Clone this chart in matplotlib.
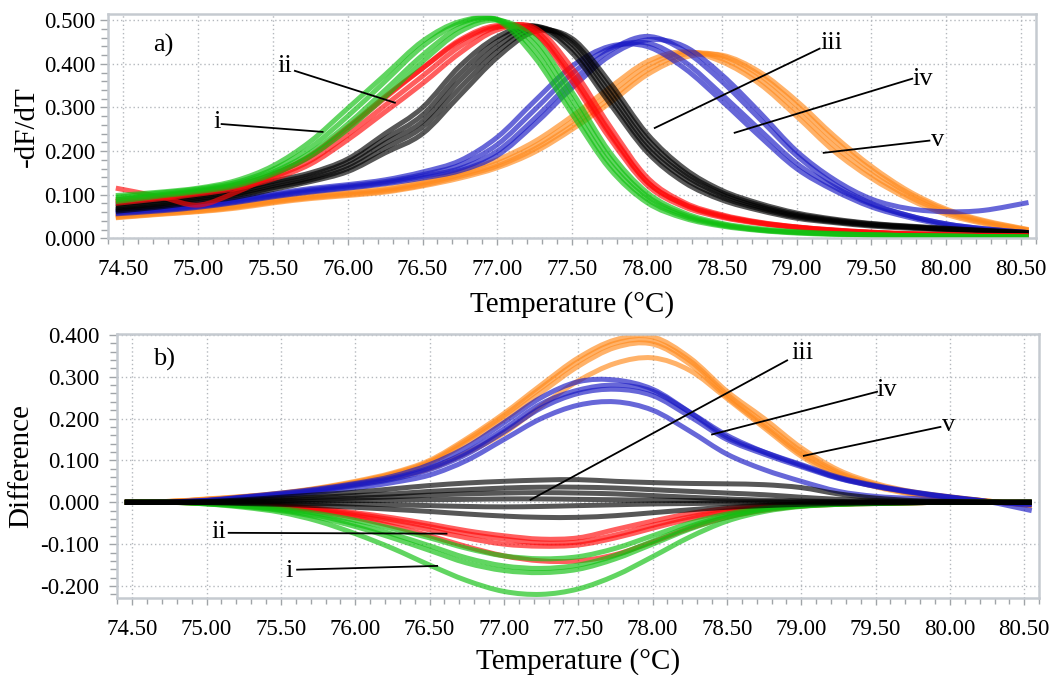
import matplotlib
matplotlib.use('Agg')
import matplotlib.pyplot as plt
from matplotlib.ticker import MultipleLocator, FormatStrFormatter
from matplotlib.path import Path
from matplotlib.patches import PathPatch

plt.rcParams['font.family'] = ['Liberation Serif', 'DejaVu Serif']

temps = [74.45, 74.75, 75.0, 75.25, 75.5, 75.75, 76.0, 76.25, 76.5, 76.75, 77.0, 77.25,
         77.5, 77.75, 78.0, 78.25, 78.5, 78.75, 79.0, 79.25, 79.5, 79.75, 80.0, 80.25, 80.55]

# ---------------- panel a) -dF/dT ----------------
top_green = [
    [0.098, 0.106, 0.115, 0.132, 0.166, 0.222, 0.298, 0.375, 0.452, 0.497, 0.500, 0.415, 0.285, 0.160, 0.082, 0.046, 0.028, 0.018, 0.012, 0.009, 0.007, 0.006, 0.005, 0.004, 0.003],
    [0.094, 0.104, 0.113, 0.128, 0.158, 0.208, 0.280, 0.360, 0.440, 0.493, 0.502, 0.430, 0.300, 0.172, 0.090, 0.050, 0.030, 0.019, 0.013, 0.010, 0.008, 0.006, 0.005, 0.004, 0.003],
    [0.088, 0.100, 0.110, 0.124, 0.152, 0.196, 0.262, 0.340, 0.420, 0.484, 0.502, 0.445, 0.318, 0.185, 0.097, 0.054, 0.032, 0.020, 0.014, 0.010, 0.008, 0.006, 0.005, 0.004, 0.003],
    [0.084, 0.097, 0.107, 0.120, 0.147, 0.188, 0.250, 0.325, 0.405, 0.474, 0.500, 0.458, 0.335, 0.198, 0.105, 0.058, 0.034, 0.022, 0.015, 0.011, 0.008, 0.006, 0.005, 0.004, 0.003],
]
top_red = [
    [0.115, 0.095, 0.076, 0.105, 0.145, 0.190, 0.255, 0.325, 0.390, 0.452, 0.485, 0.470, 0.370, 0.240, 0.130, 0.078, 0.052, 0.036, 0.026, 0.019, 0.014, 0.011, 0.009, 0.007, 0.006],
    [0.088, 0.097, 0.107, 0.122, 0.147, 0.188, 0.252, 0.322, 0.390, 0.455, 0.488, 0.470, 0.360, 0.230, 0.122, 0.072, 0.048, 0.034, 0.025, 0.018, 0.013, 0.010, 0.008, 0.006, 0.005],
    [0.084, 0.094, 0.104, 0.118, 0.141, 0.178, 0.238, 0.305, 0.372, 0.440, 0.484, 0.478, 0.375, 0.245, 0.130, 0.077, 0.050, 0.035, 0.025, 0.018, 0.013, 0.010, 0.008, 0.006, 0.005],
    [0.080, 0.091, 0.101, 0.114, 0.136, 0.170, 0.226, 0.290, 0.355, 0.425, 0.478, 0.483, 0.390, 0.258, 0.140, 0.082, 0.054, 0.037, 0.026, 0.019, 0.014, 0.010, 0.008, 0.006, 0.005],
]
top_black = [
    [0.078, 0.087, 0.099, 0.111, 0.131, 0.150, 0.182, 0.240, 0.300, 0.395, 0.462, 0.486, 0.425, 0.310, 0.198, 0.128, 0.088, 0.064, 0.046, 0.036, 0.028, 0.023, 0.019, 0.015, 0.011],
    [0.074, 0.083, 0.095, 0.106, 0.126, 0.145, 0.175, 0.228, 0.283, 0.378, 0.452, 0.487, 0.435, 0.322, 0.208, 0.137, 0.094, 0.068, 0.049, 0.038, 0.030, 0.025, 0.020, 0.016, 0.012],
    [0.070, 0.079, 0.091, 0.102, 0.121, 0.139, 0.167, 0.218, 0.268, 0.362, 0.440, 0.485, 0.445, 0.334, 0.218, 0.145, 0.100, 0.072, 0.052, 0.040, 0.031, 0.026, 0.021, 0.017, 0.012],
    [0.066, 0.075, 0.087, 0.098, 0.116, 0.134, 0.160, 0.207, 0.255, 0.345, 0.428, 0.480, 0.452, 0.346, 0.229, 0.152, 0.105, 0.076, 0.055, 0.042, 0.033, 0.027, 0.022, 0.018, 0.013],
    [0.062, 0.072, 0.083, 0.094, 0.112, 0.130, 0.153, 0.196, 0.240, 0.328, 0.415, 0.474, 0.458, 0.358, 0.240, 0.160, 0.110, 0.080, 0.058, 0.044, 0.034, 0.028, 0.023, 0.018, 0.013],
]
top_blue = [
    [0.064, 0.070, 0.078, 0.089, 0.102, 0.114, 0.123, 0.134, 0.152, 0.178, 0.232, 0.315, 0.395, 0.440, 0.440, 0.390, 0.315, 0.235, 0.160, 0.110, 0.072, 0.048, 0.030, 0.020, 0.012],
    [0.060, 0.067, 0.075, 0.086, 0.099, 0.111, 0.120, 0.130, 0.146, 0.168, 0.215, 0.295, 0.378, 0.435, 0.448, 0.405, 0.330, 0.250, 0.172, 0.118, 0.078, 0.052, 0.033, 0.022, 0.013],
    [0.058, 0.065, 0.073, 0.084, 0.097, 0.108, 0.117, 0.127, 0.142, 0.160, 0.200, 0.275, 0.360, 0.430, 0.463, 0.430, 0.360, 0.275, 0.190, 0.125, 0.080, 0.052, 0.033, 0.022, 0.013],
    [0.056, 0.063, 0.071, 0.082, 0.095, 0.106, 0.115, 0.125, 0.138, 0.155, 0.190, 0.262, 0.345, 0.418, 0.455, 0.440, 0.375, 0.290, 0.200, 0.135, 0.090, 0.068, 0.061, 0.064, 0.082],
]
top_orange = [
    [0.052, 0.060, 0.066, 0.075, 0.088, 0.098, 0.106, 0.114, 0.130, 0.152, 0.180, 0.222, 0.280, 0.345, 0.405, 0.428, 0.405, 0.355, 0.280, 0.200, 0.138, 0.090, 0.055, 0.034, 0.017],
    [0.050, 0.058, 0.064, 0.073, 0.085, 0.095, 0.103, 0.111, 0.126, 0.146, 0.172, 0.212, 0.268, 0.332, 0.395, 0.426, 0.412, 0.365, 0.292, 0.212, 0.147, 0.096, 0.059, 0.036, 0.018],
    [0.048, 0.056, 0.062, 0.071, 0.083, 0.093, 0.100, 0.108, 0.122, 0.142, 0.166, 0.205, 0.258, 0.320, 0.385, 0.422, 0.418, 0.375, 0.305, 0.225, 0.157, 0.103, 0.064, 0.039, 0.019],
    [0.047, 0.055, 0.061, 0.069, 0.081, 0.091, 0.098, 0.106, 0.120, 0.138, 0.162, 0.198, 0.250, 0.310, 0.375, 0.415, 0.420, 0.382, 0.315, 0.235, 0.165, 0.108, 0.067, 0.041, 0.020],
]

# ---------------- panel b) Difference ----------------
bot_green = [
    [0, 0, -0.003, -0.008, -0.015, -0.027, -0.043, -0.063, -0.085, -0.110, -0.128, -0.135, -0.130, -0.110, -0.080, -0.050, -0.028, -0.014, -0.007, -0.004, -0.002, -0.001, 0, 0, 0],
    [0, 0, -0.003, -0.009, -0.018, -0.032, -0.052, -0.076, -0.104, -0.133, -0.152, -0.158, -0.150, -0.127, -0.093, -0.058, -0.032, -0.016, -0.008, -0.004, -0.002, -0.001, 0, 0, 0],
    [0, 0, -0.004, -0.010, -0.020, -0.036, -0.058, -0.085, -0.115, -0.145, -0.163, -0.168, -0.160, -0.135, -0.100, -0.064, -0.036, -0.018, -0.009, -0.005, -0.003, -0.001, 0, 0, 0],
    [0, 0, -0.004, -0.012, -0.024, -0.045, -0.075, -0.110, -0.150, -0.187, -0.213, -0.220, -0.207, -0.175, -0.130, -0.083, -0.045, -0.022, -0.010, -0.005, -0.003, -0.001, 0, 0, 0],
]
bot_red = [
    [0, 0, -0.002, -0.005, -0.008, -0.015, -0.025, -0.037, -0.052, -0.068, -0.080, -0.088, -0.085, -0.065, -0.045, -0.027, -0.015, -0.008, -0.004, -0.003, -0.002, -0.001, 0, 0, 0],
    [0, 0, -0.002, -0.005, -0.009, -0.017, -0.028, -0.042, -0.058, -0.075, -0.088, -0.097, -0.095, -0.078, -0.055, -0.035, -0.020, -0.011, -0.006, -0.003, -0.002, -0.001, 0, 0, 0],
    [0, 0, -0.002, -0.005, -0.010, -0.019, -0.032, -0.048, -0.066, -0.085, -0.100, -0.105, -0.102, -0.085, -0.062, -0.040, -0.023, -0.013, -0.007, -0.004, -0.002, -0.001, 0, 0, 0],
    [0, 0, -0.003, -0.006, -0.012, -0.022, -0.037, -0.057, -0.080, -0.106, -0.128, -0.140, -0.140, -0.125, -0.095, -0.062, -0.036, -0.019, -0.009, -0.005, -0.003, -0.001, 0, 0, 0],
]
bot_black = [
    [0, 0, 0.002, 0.006, 0.012, 0.018, 0.024, 0.032, 0.040, 0.046, 0.050, 0.053, 0.054, 0.050, 0.047, 0.045, 0.044, 0.042, 0.035, 0.020, 0.010, 0.004, 0.002, 0, 0],
    [0, 0, 0.001, 0.004, 0.008, 0.012, 0.016, 0.020, 0.026, 0.030, 0.034, 0.036, 0.036, 0.034, 0.030, 0.026, 0.022, 0.018, 0.012, 0.007, 0.004, 0.002, 0.001, 0, 0],
    [0, 0, 0, 0.002, 0.004, 0.007, 0.010, 0.013, 0.017, 0.020, 0.022, 0.023, 0.022, 0.020, 0.016, 0.012, 0.008, 0.005, 0.003, 0.002, 0.001, 0, 0, 0, 0],
    [0, 0, 0, 0.001, 0.002, 0.003, 0.004, 0.005, 0.006, 0.007, 0.008, 0.008, 0.007, 0.006, 0.005, 0.004, 0.003, 0.002, 0.001, 0, 0, 0, 0, 0, 0],
    [0, 0, 0, -0.001, -0.002, -0.003, -0.004, -0.006, -0.008, -0.010, -0.011, -0.010, -0.008, -0.006, -0.004, -0.003, -0.002, -0.001, 0, 0, 0, 0, 0, 0, 0],
    [0, 0, -0.001, -0.003, -0.005, -0.008, -0.012, -0.017, -0.022, -0.028, -0.033, -0.036, -0.036, -0.032, -0.025, -0.018, -0.012, -0.008, -0.005, -0.003, -0.002, -0.001, 0, 0, 0],
]
bot_blue = [
    [0, 0.001, 0.005, 0.013, 0.022, 0.032, 0.045, 0.062, 0.090, 0.132, 0.190, 0.250, 0.288, 0.292, 0.270, 0.215, 0.155, 0.120, 0.090, 0.060, 0.040, 0.025, 0.013, 0.002, -0.020],
    [0, 0.001, 0.004, 0.012, 0.020, 0.030, 0.043, 0.058, 0.082, 0.120, 0.175, 0.235, 0.268, 0.280, 0.265, 0.215, 0.160, 0.120, 0.088, 0.058, 0.038, 0.024, 0.012, 0.002, -0.006],
    [0, 0.001, 0.004, 0.011, 0.019, 0.028, 0.040, 0.055, 0.078, 0.115, 0.168, 0.225, 0.260, 0.270, 0.255, 0.205, 0.150, 0.115, 0.085, 0.057, 0.038, 0.023, 0.012, 0.002, -0.005],
    [0, 0.001, 0.003, 0.009, 0.016, 0.024, 0.034, 0.047, 0.065, 0.100, 0.150, 0.200, 0.232, 0.240, 0.220, 0.170, 0.115, 0.078, 0.050, 0.026, 0.014, 0.009, 0.005, 0.001, -0.004],
]
bot_orange = [
    [0, 0.002, 0.008, 0.014, 0.022, 0.034, 0.050, 0.070, 0.100, 0.152, 0.212, 0.280, 0.345, 0.388, 0.395, 0.345, 0.265, 0.200, 0.130, 0.077, 0.045, 0.025, 0.013, 0.003, -0.007],
    [0, 0.002, 0.007, 0.013, 0.021, 0.033, 0.048, 0.068, 0.097, 0.148, 0.207, 0.273, 0.336, 0.380, 0.385, 0.338, 0.258, 0.190, 0.122, 0.072, 0.042, 0.022, 0.012, 0.003, -0.007],
    [0, 0.002, 0.007, 0.013, 0.021, 0.032, 0.047, 0.066, 0.094, 0.142, 0.198, 0.262, 0.325, 0.370, 0.378, 0.330, 0.252, 0.183, 0.115, 0.068, 0.040, 0.021, 0.011, 0.003, -0.008],
    [0, 0.002, 0.006, 0.012, 0.019, 0.029, 0.042, 0.058, 0.080, 0.118, 0.165, 0.230, 0.290, 0.332, 0.345, 0.315, 0.248, 0.178, 0.110, 0.063, 0.037, 0.019, 0.010, 0.002, -0.008],
]

colors = {'green': '#10c010', 'red': '#ff0a0a', 'black': '#000000',
          'blue': '#1818c4', 'orange': '#ff8a1c'}

# annotations: label, text position, line start, line end
top_notes = [
    ('i', (75.124, 0.267), (75.157, 0.262), (75.832, 0.244)),
    ('ii', (75.58, 0.396), (75.647, 0.384), (76.315, 0.311)),
    ('iii', (79.232, 0.447), (79.154, 0.435), (78.052, 0.253)),
    ('iv', (79.844, 0.366), (79.773, 0.366), (78.586, 0.242)),
    ('v', (79.944, 0.225), (79.888, 0.224), (79.181, 0.196)),
]
bot_notes = [
    ('ii', (75.082, -0.071), (75.149, -0.073), (76.614, -0.075)),
    ('i', (75.553, -0.163), (75.609, -0.161), (76.551, -0.152)),
    ('iii', (79.006, 0.356), (78.905, 0.339), (77.179, 0.006)),
    ('iv', (79.577, 0.268), (79.51, 0.264), (78.40, 0.162)),
    ('v', (79.992, 0.184), (79.936, 0.180), (79.017, 0.111)),
]

fig = plt.figure(figsize=(10.62, 6.75), dpi=100)
ax1 = fig.add_axes([0.102, 0.647, 0.8735, 0.332])
ax2 = fig.add_axes([0.1105, 0.1145, 0.868, 0.3907])

spine_col = '#c5cad0'
grid_col = '#b4b8bd'


def style(ax, ylo, yhi, ystep, ylabel, ypad, xlab_y, ylab_x):
    ax.set_xlim(74.40, 80.60)
    ax.set_ylim(ylo, yhi)
    ax.xaxis.set_major_locator(MultipleLocator(0.5))
    ax.xaxis.set_minor_locator(MultipleLocator(0.1))
    ax.yaxis.set_major_locator(MultipleLocator(ystep))
    ax.yaxis.set_minor_locator(MultipleLocator(0.02))
    ax.xaxis.set_major_formatter(FormatStrFormatter('%.2f'))
    ax.yaxis.set_major_formatter(FormatStrFormatter('%.3f'))
    ax.grid(True, which='major', color=grid_col, linestyle=(0, (1, 2)), linewidth=1.0)
    ax.set_axisbelow(True)
    for s in ax.spines.values():
        s.set_color(spine_col)
        s.set_linewidth(1.8)
    ax.tick_params(axis='x', which='major', direction='out', length=5, width=1,
                   color='#a0a4a8', labelsize=16.5, pad=10)
    ax.tick_params(axis='x', which='minor', direction='out', length=4, width=1, color='#a0a4a8')
    ax.tick_params(axis='y', which='major', direction='out', length=6, width=1,
                   color='#a0a4a8', labelsize=16.5, pad=ypad)
    ax.tick_params(axis='y', which='minor', direction='out', length=5, width=1, color='#a0a4a8')
    ax.set_xlabel('Temperature (°C)', fontsize=21)
    ax.xaxis.set_label_coords(0.5, xlab_y)
    ax.set_ylabel(ylabel, fontsize=21)
    ax.yaxis.set_label_coords(ylab_x, 0.5)


def smooth_path(xs, ys):
    # Catmull-Rom curve through the read points, drawn as cubic Bezier segments
    n = len(xs)
    verts = [(xs[0], ys[0])]
    codes = [Path.MOVETO]
    for i in range(n - 1):
        x0, y0 = (xs[i - 1], ys[i - 1]) if i > 0 else (xs[i], ys[i])
        x1, y1 = xs[i], ys[i]
        x2, y2 = xs[i + 1], ys[i + 1]
        x3, y3 = (xs[i + 2], ys[i + 2]) if i + 2 < n else (xs[i + 1], ys[i + 1])
        c1 = (x1 + (x2 - x0) / 6.0, y1 + (y2 - y0) / 6.0)
        c2 = (x2 - (x3 - x1) / 6.0, y2 - (y3 - y1) / 6.0)
        verts += [c1, c2, (x2, y2)]
        codes += [Path.CURVE4, Path.CURVE4, Path.CURVE4]
    return Path(verts, codes)


def draw(ax, groups):
    for name, curves in groups:
        for c in curves:
            patch = PathPatch(smooth_path(temps, c), fill=False, edgecolor=colors[name],
                              lw=3.6, alpha=0.66, capstyle='butt', joinstyle='round')
            ax.add_patch(patch)


def notes(ax, items):
    for lab, tpos, p0, p1 in items:
        ax.plot([p0[0], p1[0]], [p0[1], p1[1]], color='black', lw=1.3, zorder=5)
        ax.text(tpos[0], tpos[1], lab, fontsize=19, ha='center', va='center', zorder=6)


draw(ax1, [('orange', top_orange), ('blue', top_blue), ('black', top_black),
           ('red', top_red), ('green', top_green)])
draw(ax2, [('orange', bot_orange), ('blue', bot_blue), ('red', bot_red),
           ('green', bot_green), ('black', bot_black)])

style(ax1, 0.0, 0.514, 0.1, '-dF/dT', 3.5, -0.235, -0.074)
style(ax2, -0.228, 0.402, 0.1, 'Difference', 7, -0.19, -0.09)

notes(ax1, top_notes)
notes(ax2, bot_notes)
ax1.text(74.765, 0.443, 'a)', fontsize=19, ha='center', va='center')
ax2.text(74.713, 0.340, 'b)', fontsize=19, ha='center', va='center')

fig.savefig('out.png', dpi=100)
